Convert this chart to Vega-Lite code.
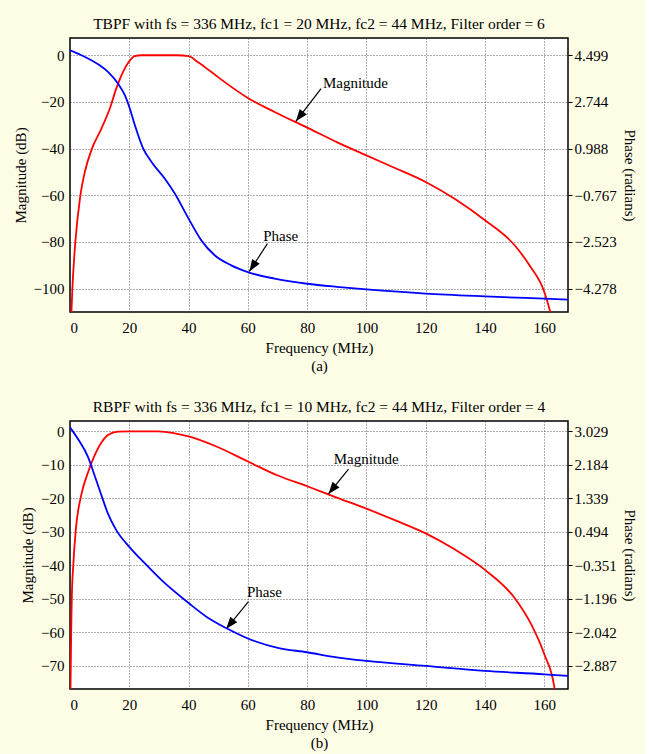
{
  "$schema": "https://vega.github.io/schema/vega-lite/v6.json",
  "background": "#fdfde6",
  "padding": {"left": 12, "top": 15, "right": 8, "bottom": 4},
  "spacing": 24,
  "datasets": {
    "magA": [
      {"f": 0.3, "v": -116}, {"f": 0.8, "v": -100}, {"f": 1.8, "v": -80}, {"f": 3.5, "v": -60}, {"f": 5.0, "v": -50},
      {"f": 7.4, "v": -40}, {"f": 10.6, "v": -31.4}, {"f": 13.4, "v": -22.9}, {"f": 15.6, "v": -14.3}, {"f": 17.9, "v": -7.1},
      {"f": 19.8, "v": -2.9}, {"f": 21.8, "v": -0.4}, {"f": 24, "v": 0}, {"f": 30, "v": 0}, {"f": 36, "v": 0},
      {"f": 40, "v": -0.4}, {"f": 43.1, "v": -2.9}, {"f": 47.6, "v": -7.1}, {"f": 52.1, "v": -11.4}, {"f": 60, "v": -18.3},
      {"f": 69, "v": -24.3}, {"f": 80, "v": -31}, {"f": 90, "v": -37.2}, {"f": 100, "v": -42.9}, {"f": 110, "v": -48.5},
      {"f": 120, "v": -54.3}, {"f": 130, "v": -61.7}, {"f": 140, "v": -70.7}, {"f": 150, "v": -81.4}, {"f": 155, "v": -90},
      {"f": 160, "v": -101.4}, {"f": 162, "v": -110}, {"f": 163, "v": -116}
    ],
    "phaseA": [
      {"f": 0, "p": 4.687}, {"f": 3.5, "p": 4.52}, {"f": 7.2, "p": 4.311}, {"f": 10, "p": 4.12}, {"f": 12.8, "p": 3.876},
      {"f": 16.2, "p": 3.437}, {"f": 18.5, "p": 2.998}, {"f": 20.2, "p": 2.489}, {"f": 21.9, "p": 1.866}, {"f": 24.7, "p": 0.988},
      {"f": 27.5, "p": 0.488}, {"f": 32, "p": -0.144}, {"f": 35.4, "p": -0.706}, {"f": 40, "p": -1.645}, {"f": 44.3, "p": -2.462},
      {"f": 48.8, "p": -3.023}, {"f": 54.4, "p": -3.401}, {"f": 60, "p": -3.655}, {"f": 69, "p": -3.901}, {"f": 80, "p": -4.094},
      {"f": 90, "p": -4.21}, {"f": 100, "p": -4.305}, {"f": 120, "p": -4.463}, {"f": 140, "p": -4.568}, {"f": 160, "p": -4.656},
      {"f": 168, "p": -4.691}
    ],
    "annA": [
      {"label": "Magnitude", "tx": 96.3, "ty": -12, "x1": 84.7, "y1": -14.3, "x2": 76.2, "y2": -28.3},
      {"label": "Phase", "tx": 71.1, "ty": -77.6, "x1": 66.6, "y1": -80.7, "x2": 60.5, "y2": -92.6}
    ],
    "magB": [
      {"f": 0.1, "v": -82}, {"f": 0.4, "v": -60}, {"f": 0.6, "v": -50}, {"f": 1.1, "v": -40}, {"f": 2.0, "v": -29},
      {"f": 3.8, "v": -19}, {"f": 6.1, "v": -12.2}, {"f": 8.3, "v": -7.2}, {"f": 10.6, "v": -3.3}, {"f": 12.8, "v": -1.1},
      {"f": 16.2, "v": -0.1}, {"f": 20, "v": 0}, {"f": 29.7, "v": 0}, {"f": 35, "v": -0.5}, {"f": 40, "v": -1.5},
      {"f": 48.8, "v": -4.3}, {"f": 60, "v": -9.0}, {"f": 70.1, "v": -13.2}, {"f": 80, "v": -16.4}, {"f": 90, "v": -19.8},
      {"f": 100, "v": -23.1}, {"f": 110, "v": -26.7}, {"f": 120, "v": -30.5}, {"f": 130, "v": -35.4}, {"f": 140, "v": -41.4},
      {"f": 150, "v": -49.8}, {"f": 155.6, "v": -57.7}, {"f": 160, "v": -66.6}, {"f": 163.4, "v": -76.5}, {"f": 164, "v": -82}
    ],
    "phaseB": [
      {"f": 0, "p": 3.13}, {"f": 2.7, "p": 2.835}, {"f": 6.1, "p": 2.378}, {"f": 8.3, "p": 1.913}, {"f": 10.6, "p": 1.414},
      {"f": 12.8, "p": 0.95}, {"f": 15.6, "p": 0.535}, {"f": 20, "p": 0.113}, {"f": 25.2, "p": -0.302}, {"f": 30.8, "p": -0.724},
      {"f": 40, "p": -1.307}, {"f": 46.5, "p": -1.679}, {"f": 52.5, "p": -1.933}, {"f": 60, "p": -2.203}, {"f": 70.1, "p": -2.44},
      {"f": 80, "p": -2.55}, {"f": 90, "p": -2.68}, {"f": 100, "p": -2.77}, {"f": 120, "p": -2.897}, {"f": 140, "p": -3.023},
      {"f": 160, "p": -3.108}, {"f": 168, "p": -3.15}
    ],
    "annB": [
      {"label": "Magnitude", "tx": 99.9, "ty": -8.3, "x1": 93.96, "y1": -11.3, "x2": 87.2, "y2": -18.7},
      {"label": "Phase", "tx": 65.6, "ty": -48.1, "x1": 60.2, "y1": -50.9, "x2": 52.7, "y2": -59.0}
    ]
  },
  "vconcat": [
    {
      "width": 498,
      "height": 274,
      "title": "TBPF with fs = 336 MHz, fc1 = 20 MHz, fc2 = 44 MHz, Filter order = 6",
      "layer": [
        {
          "layer": [
            {
              "data": {"name": "magA"},
              "mark": {"type": "line", "color": "#ff0000", "strokeWidth": 1.8, "clip": true, "interpolate": "monotone"},
              "encoding": {
                "x": {"field": "f", "type": "quantitative", "scale": {"domain": [0, 168], "nice": false, "zero": false},
                      "axis": {"values": [0, 20, 40, 60, 80, 100, 120, 140, 160], "tickCount": 20, "title": ["Frequency (MHz)", "(a)"], "grid": true, "tickSize": 0, "labelPadding": 8}},
                "y": {"field": "v", "type": "quantitative", "scale": {"domain": [-110, 7.4], "nice": false, "zero": false},
                      "axis": {"values": [0, -20, -40, -60, -80, -100], "tickCount": 20, "title": "Magnitude (dB)", "grid": true, "tickSize": 0, "labelPadding": 6}}
              }
            },
            {
              "data": {"name": "annA"},
              "mark": {"type": "rule", "color": "black", "strokeWidth": 1.2},
              "encoding": {
                "x": {"field": "x1", "type": "quantitative"},
                "y": {"field": "y1", "type": "quantitative"},
                "x2": {"field": "x2"},
                "y2": {"field": "y2"}
              }
            },
            {
              "data": {"name": "annA"},
              "transform": [{"filter": "datum.label == 'Magnitude'"}],
              "mark": {"type": "point", "shape": "M0,0L-0.6,1.6L0.6,1.6Z", "filled": true, "color": "black", "opacity": 1, "size": 225, "angle": 217.8},
              "encoding": {
                "x": {"field": "x2", "type": "quantitative"},
                "y": {"field": "y2", "type": "quantitative"}
              }
            },
            {
              "data": {"name": "annA"},
              "transform": [{"filter": "datum.label == 'Phase'"}],
              "mark": {"type": "point", "shape": "M0,0L-0.6,1.6L0.6,1.6Z", "filled": true, "color": "black", "opacity": 1, "size": 225, "angle": 213.4},
              "encoding": {
                "x": {"field": "x2", "type": "quantitative"},
                "y": {"field": "y2", "type": "quantitative"}
              }
            },
            {
              "data": {"name": "annA"},
              "mark": {"type": "text", "font": "Liberation Serif", "fontSize": 15, "color": "black"},
              "encoding": {
                "x": {"field": "tx", "type": "quantitative"},
                "y": {"field": "ty", "type": "quantitative"},
                "text": {"field": "label"}
              }
            }
          ]
        },
        {
          "data": {"name": "phaseA"},
          "mark": {"type": "line", "color": "#0000ff", "strokeWidth": 1.8, "clip": true, "interpolate": "monotone"},
          "encoding": {
            "x": {"field": "f", "type": "quantitative"},
            "y": {"field": "p", "type": "quantitative", "scale": {"domain": [-5.15625, 5.148535], "nice": false, "zero": false},
                  "axis": {"orient": "right", "values": [4.499, 2.744, 0.988, -0.767, -2.523, -4.278], "tickCount": 20, "format": ".3f", "title": "Phase (radians)", "grid": false, "tickSize": 4, "labelPadding": 2}}
          }
        }
      ],
      "resolve": {"scale": {"y": "independent"}, "axis": {"y": "independent"}}
    },
    {
      "width": 498,
      "height": 268,
      "title": "RBPF with fs = 336 MHz, fc1 = 10 MHz, fc2 = 44 MHz, Filter order = 4",
      "layer": [
        {
          "layer": [
            {
              "data": {"name": "magB"},
              "mark": {"type": "line", "color": "#ff0000", "strokeWidth": 1.8, "clip": true, "interpolate": "monotone"},
              "encoding": {
                "x": {"field": "f", "type": "quantitative", "scale": {"domain": [0, 168], "nice": false, "zero": false},
                      "axis": {"values": [0, 20, 40, 60, 80, 100, 120, 140, 160], "tickCount": 20, "title": ["Frequency (MHz)", "(b)"], "grid": true, "tickSize": 0, "labelPadding": 8}},
                "y": {"field": "v", "type": "quantitative", "scale": {"domain": [-77, 3.1], "nice": false, "zero": false},
                      "axis": {"values": [0, -10, -20, -30, -40, -50, -60, -70], "tickCount": 20, "title": "Magnitude (dB)", "grid": true, "tickSize": 0, "labelPadding": 6}}
              }
            },
            {
              "data": {"name": "annB"},
              "mark": {"type": "rule", "color": "black", "strokeWidth": 1.2},
              "encoding": {
                "x": {"field": "x1", "type": "quantitative"},
                "y": {"field": "y1", "type": "quantitative"},
                "x2": {"field": "x2"},
                "y2": {"field": "y2"}
              }
            },
            {
              "data": {"name": "annB"},
              "transform": [{"filter": "datum.label == 'Magnitude'"}],
              "mark": {"type": "point", "shape": "M0,0L-0.6,1.6L0.6,1.6Z", "filled": true, "color": "black", "opacity": 1, "size": 225, "angle": 218.7},
              "encoding": {
                "x": {"field": "x2", "type": "quantitative"},
                "y": {"field": "y2", "type": "quantitative"}
              }
            },
            {
              "data": {"name": "annB"},
              "transform": [{"filter": "datum.label == 'Phase'"}],
              "mark": {"type": "point", "shape": "M0,0L-0.6,1.6L0.6,1.6Z", "filled": true, "color": "black", "opacity": 1, "size": 225, "angle": 219.2},
              "encoding": {
                "x": {"field": "x2", "type": "quantitative"},
                "y": {"field": "y2", "type": "quantitative"}
              }
            },
            {
              "data": {"name": "annB"},
              "mark": {"type": "text", "font": "Liberation Serif", "fontSize": 15, "color": "black"},
              "encoding": {
                "x": {"field": "tx", "type": "quantitative"},
                "y": {"field": "ty", "type": "quantitative"},
                "text": {"field": "label"}
              }
            }
          ]
        },
        {
          "data": {"name": "phaseB"},
          "mark": {"type": "line", "color": "#0000ff", "strokeWidth": 1.8, "clip": true, "interpolate": "monotone"},
          "encoding": {
            "x": {"field": "f", "type": "quantitative"},
            "y": {"field": "p", "type": "quantitative", "scale": {"domain": [-3.4786, 3.291], "nice": false, "zero": false},
                  "axis": {"orient": "right", "values": [3.029, 2.184, 1.339, 0.494, -0.351, -1.196, -2.042, -2.887], "tickCount": 20, "format": ".3f", "title": "Phase (radians)", "grid": false, "tickSize": 4, "labelPadding": 2}}
          }
        }
      ],
      "resolve": {"scale": {"y": "independent"}, "axis": {"y": "independent"}}
    }
  ],
  "config": {
    "font": "Liberation Serif",
    "view": {"stroke": "black", "strokeWidth": 1.5, "fill": "white"},
    "axis": {
      "labelFont": "Liberation Serif", "titleFont": "Liberation Serif",
      "labelFontSize": 15, "titleFontSize": 15, "titleFontWeight": "normal",
      "labelColor": "black", "titleColor": "black", "domain": false, "labelOverlap": false,
      "gridColor": "#333333", "gridDash": [1, 2], "gridWidth": 0.8, "gridOpacity": 1,
      "tickColor": "black", "titleLineHeight": 18, "titlePadding": 5
    },
    "title": {"font": "Liberation Serif", "fontSize": 15.5, "fontWeight": "normal", "color": "black", "offset": 6}
  }
}
